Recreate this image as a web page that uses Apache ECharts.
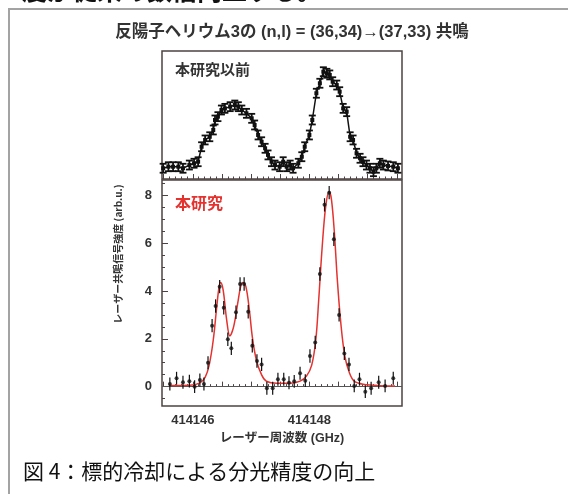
<!DOCTYPE html>
<html><head><meta charset="utf-8">
<script src="https://cdn.jsdelivr.net/npm/echarts@6/dist/echarts.min.js"></script>
<style>html,body{margin:0;padding:0;background:#fff;}#c{width:568px;height:494px;}</style>
</head><body><div id="c"></div>
<script>
// ---- Upper panel (本研究以前): frequency (GHz), signal (arb.), error ----
const upperX = [414145.49, 414145.58, 414145.66, 414145.75, 414145.83, 414145.94, 414146.02, 414146.09, 414146.15, 414146.21, 414146.29, 414146.35, 414146.38, 414146.43, 414146.49, 414146.55, 414146.64, 414146.72, 414146.78, 414146.84, 414146.92, 414147.01, 414147.06, 414147.12, 414147.18, 414147.24, 414147.29, 414147.35, 414147.41, 414147.49, 414147.55, 414147.61, 414147.67, 414147.72, 414147.81, 414147.87, 414147.92, 414148.00, 414148.05, 414148.12, 414148.18, 414148.24, 414148.30, 414148.35, 414148.40, 414148.47, 414148.52, 414148.58, 414148.64, 414148.70, 414148.75, 414148.81, 414148.87, 414148.92, 414148.98, 414149.04, 414149.10, 414149.15, 414149.21, 414149.27, 414149.35, 414149.44, 414149.52];
const upperY = [0.84, 0.96, 0.96, 0.96, 0.84, 1.09, 1.23, 1.35, 2.52, 3.05, 3.30, 3.83, 4.61, 4.87, 5.39, 5.52, 5.65, 5.78, 5.65, 5.39, 5.13, 4.74, 4.22, 3.44, 2.91, 2.40, 1.88, 1.35, 1.09, 0.96, 1.35, 0.96, 1.09, 0.84, 1.23, 1.74, 2.52, 3.44, 4.61, 6.70, 7.48, 8.38, 8.26, 8.13, 7.60, 7.34, 6.82, 5.52, 5.26, 3.30, 3.05, 2.01, 1.62, 1.35, 1.09, 0.84, 0.57, 0.84, 1.23, 1.09, 1.02, 0.96, 0.84];
const upperErr = [0.35, 0.35, 0.35, 0.35, 0.35, 0.35, 0.35, 0.35, 0.35, 0.35, 0.35, 0.35, 0.35, 0.35, 0.35, 0.35, 0.35, 0.35, 0.35, 0.35, 0.35, 0.35, 0.35, 0.35, 0.35, 0.35, 0.35, 0.35, 0.35, 0.35, 0.35, 0.35, 0.35, 0.35, 0.35, 0.35, 0.35, 0.35, 0.35, 0.35, 0.35, 0.35, 0.35, 0.35, 0.35, 0.35, 0.35, 0.35, 0.35, 0.35, 0.35, 0.35, 0.35, 0.35, 0.35, 0.35, 0.35, 0.35, 0.35, 0.35, 0.35, 0.35, 0.35];

// ---- Lower panel (本研究): data points ----
const lowerX = [414145.605, 414145.72, 414145.83, 414145.94, 414146.03, 414146.12, 414146.19, 414146.26, 414146.33, 414146.39, 414146.46, 414146.53, 414146.60, 414146.66, 414146.74, 414146.81, 414146.88, 414146.95, 414147.02, 414147.10, 414147.18, 414147.27, 414147.37, 414147.46, 414147.56, 414147.65, 414147.74, 414147.84, 414147.93, 414148.01, 414148.10, 414148.18, 414148.26, 414148.34, 414148.42, 414148.51, 414148.60, 414148.68, 414148.77, 414148.86, 414148.96, 414149.06, 414149.19, 414149.30, 414149.44];
const lowerY = [0.11, 0.35, 0.18, 0.23, 0.00, 0.28, 0.11, 1.00, 2.55, 3.37, 4.18, 3.30, 1.98, 1.60, 3.11, 4.29, 4.29, 3.13, 1.71, 1.07, 0.93, -0.07, -0.07, 0.31, 0.31, 0.16, 0.22, 0.56, 0.25, 1.28, 1.85, 4.71, 7.60, 8.11, 6.16, 3.00, 1.39, 0.93, 0.03, 0.31, -0.21, -0.07, 0.18, 0.03, 0.35];
const lowerErr = [0.27, 0.27, 0.27, 0.27, 0.27, 0.27, 0.27, 0.27, 0.28, 0.28, 0.28, 0.28, 0.28, 0.28, 0.28, 0.28, 0.28, 0.28, 0.28, 0.28, 0.28, 0.27, 0.27, 0.27, 0.27, 0.27, 0.27, 0.27, 0.27, 0.28, 0.28, 0.28, 0.28, 0.28, 0.28, 0.28, 0.28, 0.28, 0.27, 0.27, 0.27, 0.27, 0.27, 0.27, 0.27];

// ---- Lower panel: fit curve ----
const fitX = [414145.605, 414145.95, 414146.12, 414146.21, 414146.28, 414146.35, 414146.41, 414146.45, 414146.475, 414146.52, 414146.58, 414146.635, 414146.70, 414146.77, 414146.82, 414146.86, 414146.91, 414146.97, 414147.02, 414147.09, 414147.18, 414147.26, 414147.44, 414147.67, 414147.84, 414147.95, 414148.04, 414148.11, 414148.16, 414148.22, 414148.28, 414148.34, 414148.38, 414148.43, 414148.48, 414148.54, 414148.61, 414148.69, 414148.77, 414148.92, 414149.21, 414149.47];
const fitY = [0.05, 0.06, 0.16, 0.39, 0.90, 1.95, 3.34, 4.18, 4.35, 4.04, 2.79, 2.12, 2.51, 3.49, 4.18, 4.35, 4.18, 3.20, 2.09, 1.11, 0.49, 0.23, 0.14, 0.14, 0.23, 0.44, 0.90, 1.95, 3.62, 5.85, 7.53, 8.16, 7.81, 6.41, 4.46, 2.65, 1.25, 0.56, 0.23, 0.10, 0.04, 0.03];

// ---- Axis ticks / labels ----
const xLabelValues = [414146, 414148];
const yLabelValues = [0, 2, 4, 6, 8];
const xMin = 414145.47, xMax = 414149.59;
const yMinLower = -0.81, yMaxLower = 8.64;

const xMajor = [], xMinor = [];
for (let k = 414145.5 * 10; k <= 414149.5 * 10 + 0.01; k++) {
  const v = Math.round(k) / 10;
  if (Math.round(k) % 5 === 0) xMajor.push(v); else xMinor.push(v);
}
const yMinor = [];
for (let k = -1; k <= 17; k++) { if (k % 4 !== 0) yMinor.push(k / 2); }

const AX = '#4d4242';
const chart = echarts.init(document.getElementById('c'), null, {renderer: 'canvas'});

function errRender(capW, lw) {
  return function (params, api) {
    const x = api.value(0), y = api.value(1), e = api.value(2);
    const lo = api.coord([x, y - e]), hi = api.coord([x, y + e]);
    const ch = [{type: 'line', shape: {x1: lo[0], y1: lo[1], x2: hi[0], y2: hi[1]}, style: {stroke: '#111', lineWidth: lw}}];
    if (capW > 0) {
      ch.push({type: 'line', shape: {x1: lo[0] - capW, y1: lo[1], x2: lo[0] + capW, y2: lo[1]}, style: {stroke: '#111', lineWidth: lw}});
      ch.push({type: 'line', shape: {x1: hi[0] - capW, y1: hi[1], x2: hi[0] + capW, y2: hi[1]}, style: {stroke: '#111', lineWidth: lw}});
    }
    return {type: 'group', children: ch};
  };
}

function xAx(grid, vals, len, labels) {
  return {
    type: 'value', gridIndex: grid, min: xMin, max: xMax, position: 'bottom', offset: 0,
    axisLine: {show: false}, splitLine: {show: false},
    axisTick: {show: true, inside: true, length: len, customValues: vals, lineStyle: {color: AX, width: 1}},
    axisLabel: labels ? {show: true, customValues: xLabelValues, formatter: v => String(v), margin: 8,
      fontFamily: 'Liberation Sans, Arial', fontWeight: 'bold', fontSize: 13, color: '#333'} : {show: false}
  };
}

const upperData = upperX.map((x, i) => [x, upperY[i], upperErr[i]]);
const lowerData = lowerX.map((x, i) => [x, lowerY[i], lowerErr[i]]);
const fitData = fitX.map((x, i) => [x, fitY[i]]);

chart.setOption({
  animation: false,
  backgroundColor: '#fff',
  grid: [
    {left: 162, top: 51, width: 240, height: 128, show: true, borderColor: AX, borderWidth: 1.5, backgroundColor: 'transparent'},
    {left: 162, top: 180, width: 240, height: 226, show: true, borderColor: AX, borderWidth: 1.5, backgroundColor: 'transparent'}
  ],
  xAxis: [
    xAx(0, xMajor, 5, false),
    xAx(0, xMinor, 2.5, false),
    xAx(1, xMajor, 5, true),
    xAx(1, xMinor, 2.5, false)
  ],
  yAxis: [
    {type: 'value', gridIndex: 0, min: 0, max: 10, show: false},
    {type: 'value', gridIndex: 1, min: yMinLower, max: yMaxLower, position: 'left',
      axisLine: {show: false}, splitLine: {show: false},
      axisTick: {show: true, inside: true, length: 6, customValues: yLabelValues, lineStyle: {color: AX}},
      axisLabel: {show: true, customValues: yLabelValues, margin: 10, fontFamily: 'Liberation Sans, Arial', fontWeight: 'bold', fontSize: 13, color: '#333'}},
    {type: 'value', gridIndex: 1, min: yMinLower, max: yMaxLower, position: 'left', offset: 0,
      axisLine: {show: false}, splitLine: {show: false},
      axisTick: {show: true, inside: true, length: 3, customValues: yMinor, lineStyle: {color: AX}},
      axisLabel: {show: false}}
  ],
  series: [
    {type: 'line', xAxisIndex: 0, yAxisIndex: 0, data: upperData.map(d => [d[0], d[1]]),
      symbol: 'rect', symbolSize: 4, itemStyle: {color: '#111'}, lineStyle: {color: '#111', width: 1.5}, z: 3},
    {type: 'custom', xAxisIndex: 0, yAxisIndex: 0, data: upperData, encode: {x: 0, y: 1}, renderItem: errRender(3.5, 1.8), z: 4},
    {type: 'line', xAxisIndex: 2, yAxisIndex: 1, data: fitData, smooth: 0.35, showSymbol: false, symbol: 'none',
      lineStyle: {color: '#e4322f', width: 1.5}, z: 3,
      markLine: {silent: true, symbol: 'none', label: {show: false}, lineStyle: {color: '#555', width: 1, type: 'solid'}, data: [{yAxis: 0}], z: 2}},
    {type: 'custom', xAxisIndex: 2, yAxisIndex: 1, data: lowerData, encode: {x: 0, y: 1}, renderItem: errRender(0, 1.2), z: 4},
    {type: 'scatter', xAxisIndex: 2, yAxisIndex: 1, data: lowerData.map(d => [d[0], d[1]]), symbol: 'circle', symbolSize: 4,
      itemStyle: {color: '#111'}, z: 5}
  ],
  graphic: [
    {type: 'rect', shape: {x: 9, y: 9, width: 620, height: 600}, style: {fill: 'none', stroke: '#a3a3a3', lineWidth: 2}, z: 1},
    {type: 'text', style: {text: '度が従来の数倍向上する。', x: 22, y: 3, textVerticalAlign: 'bottom', font: 'bold 25px "Noto Sans CJK JP"', fill: '#111'}},
    {type: 'text', style: {text: '反陽子ヘリウム3の (n,l) = (36,34)→(37,33) 共鳴', x: 292, y: 32, textAlign: 'center', textVerticalAlign: 'middle', font: 'bold 16.5px "Liberation Sans", "Noto Sans CJK JP"', fill: '#333'}},
    {type: 'text', style: {text: '本研究以前', x: 175, y: 69, textVerticalAlign: 'middle', font: 'bold 15px "Noto Sans CJK JP"', fill: '#333'}},
    {type: 'text', style: {text: '本研究', x: 175, y: 203, textVerticalAlign: 'middle', font: 'bold 16px "Noto Sans CJK JP"', fill: '#e4322f'}},
    {type: 'text', rotation: Math.PI / 2, x: 118, y: 254, style: {text: 'レーザー共鳴信号強度 (arb.u.)', x: 0, y: 0, textAlign: 'center', textVerticalAlign: 'middle', font: 'bold 10px "Noto Sans CJK JP"', fill: '#333'}},
    {type: 'text', style: {text: 'レーザー周波数 (GHz)', x: 282, y: 439, textAlign: 'center', textVerticalAlign: 'middle', font: 'bold 12.5px "Liberation Sans", "Noto Sans CJK JP"', fill: '#333'}},
    {type: 'text', style: {text: '図 4：標的冷却による分光精度の向上', x: 23, y: 471, textVerticalAlign: 'middle', font: '21px "Noto Sans CJK JP"', fill: '#111'}}
  ]
});
</script>
</body></html>
